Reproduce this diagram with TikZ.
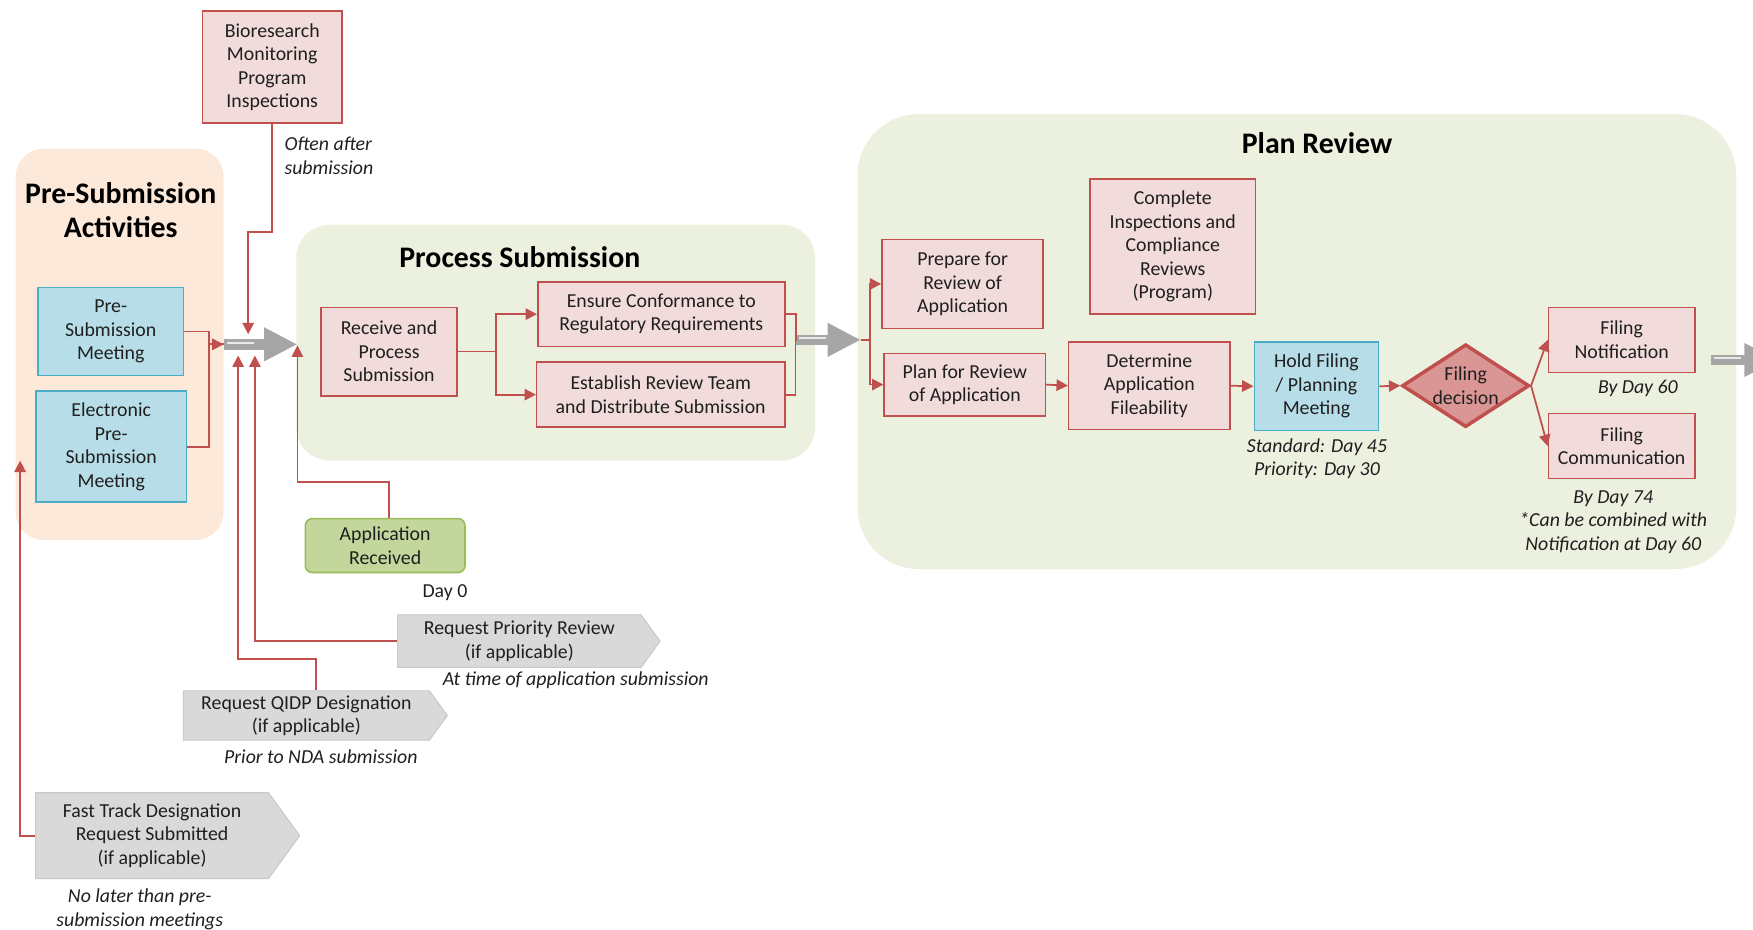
\documentclass[tikz,border=0pt]{standalone}
\usepackage{fontspec}
\setmainfont{Carlito}
\usetikzlibrary{arrows.meta, shapes.geometric, shapes.symbols}

\definecolor{rojo}{HTML}{C0504D}
\definecolor{rosa}{HTML}{F2DCDB}
\definecolor{azul}{HTML}{B7DEE8}
\definecolor{azulborde}{HTML}{4BACC6}
\definecolor{naranja}{HTML}{FDE9D9}
\definecolor{verde}{HTML}{EBF1DE}
\definecolor{verdecaja}{HTML}{C3D69B}
\definecolor{verdeborde}{HTML}{9BBB59}
\definecolor{gris}{HTML}{D9D9D9}
\definecolor{grisborde}{HTML}{C9C9C9}
\definecolor{grisflecha}{HTML}{A6A6A6}
\definecolor{rojodec}{HTML}{D99694}

\tikzset{
  texto/.style={font=\fontsize{11.3}{13.4}\selectfont, text=black!88, align=center},
  caja/.style={texto, draw=rojo, fill=rosa, line width=0.9pt, inner sep=1pt},
  cajaazul/.style={caja, draw=azulborde, fill=azul},
  senal/.style={texto, signal, signal to=east, signal pointer angle=108, draw=grisborde, fill=gris, line width=0.6pt, inner sep=1pt},
  nota/.style={texto, font=\fontsize{11.3}{13.4}\selectfont\itshape},
  titulo/.style={align=center, text=black, font=\fontsize{17}{19.7}\selectfont\bfseries},
  linea/.style={draw=rojo, line width=1pt},
  flecha/.style={linea, -{Triangle[length=6.5pt,width=6.5pt]}},
  gruesa/.style={draw=grisflecha, line width=6pt, -{Triangle[length=19pt,width=18pt]}},
  brillo/.style={draw=white!75!grisflecha, line width=1.2pt},
}

\begin{document}
\begin{tikzpicture}[x=0.0224cm, y=-0.0224cm]
  \clip (0,0) rectangle (1568,831);
  % marcos de fondo
  \fill[naranja, rounded corners=16pt] (14,133) rectangle (200,483);
  \fill[verde, rounded corners=19pt] (265,201) rectangle (729,412);
  \fill[verde, rounded corners=35pt] (767,102) rectangle (1553,509);
  \node[titulo] (tpre) at (108,188) {Pre-Submission\\Activities};
  \node[titulo] (tproc) at (465,230) {Process Submission};
  \node[titulo] (tplan) at (1178,128) {Plan Review};

  % flechas grises entre etapas
  \coordinate (g1i) at (200,308); \coordinate (g1f) at (266,308);
  \coordinate (g2i) at (712,304); \coordinate (g2f) at (770,304);
  \coordinate (g3i) at (1530,322); \coordinate (g3f) at (1590,322);
  \foreach \a/\b in {g1i/g1f, g2i/g2f, g3i/g3f}{
    \draw[gruesa] (\a) -- (\b);
    \draw[brillo] (\a) ++(3,-1.5) -- ++(24,0);
  }

  % antes de la solicitud
  \node[caja, minimum width=2.80cm, minimum height=2.24cm] (bio) at (243.5,60)
    {Bioresearch\\Monitoring\\Program\\Inspections};
  \node[nota, align=left, anchor=west] (nbio) at (249,139.5) {Often after\\submission};
  \node[cajaazul, minimum width=2.91cm, minimum height=1.77cm] (presub) at (99,296.5)
    {Pre-\\Submission\\Meeting};
  \node[cajaazul, minimum width=3.02cm, minimum height=2.22cm] (elec) at (99.5,399.5)
    {Electronic\\Pre-\\Submission\\Meeting};

  % entradas de abajo
  \node[texto, draw=verdeborde, fill=verdecaja, line width=0.9pt, rounded corners=4pt,
    minimum width=3.20cm, minimum height=1.08cm] (apprec) at (344.5,488) {Application\\Received};
  \node[texto] (day0) at (398,530) {Day 0};
  \node[senal, minimum width=5.26cm, minimum height=1.05cm] (prio) at (464.5,573.5)
    {Request Priority Review\\(if applicable)};
  \node[nota] (nprio) at (515,608) {At time of application submission};
  \node[senal, minimum width=5.29cm, minimum height=0.99cm] (qidp) at (274,640)
    {Request QIDP Designation\\(if applicable)};
  \node[nota] (nqidp) at (287,677) {Prior to NDA submission};
  \node[senal, minimum width=5.29cm, minimum height=1.72cm] (fast) at (136,747.5)
    {Fast Track Designation\\Request Submitted\\(if applicable)};
  \node[nota] (nfast) at (125,813.5) {No later than pre-\\submission meetings};

  % procesar la solicitud
  \node[caja, minimum width=2.73cm, minimum height=1.77cm] (receive) at (348,314.5)
    {Receive and\\Process\\Submission};
  \node[caja, minimum width=4.95cm, minimum height=1.30cm] (ensure) at (591.5,281)
    {Ensure Conformance to\\Regulatory Requirements};
  \node[caja, minimum width=4.97cm, minimum height=1.30cm] (establish) at (591,353)
    {Establish Review Team\\and Distribute Submission};

  % revisión del plan
  \node[caja, minimum width=3.23cm, minimum height=1.79cm] (prepare) at (861,254)
    {Prepare for\\Review of\\Application};
  \node[caja, minimum width=3.32cm, minimum height=2.71cm] (complete) at (1049,220.5)
    {Complete\\Inspections and\\Compliance\\Reviews\\(Program)};
  \node[caja, minimum width=3.23cm, minimum height=1.25cm] (planrev) at (863,344)
    {Plan for Review\\of Application};
  \node[caja, minimum width=3.23cm, minimum height=1.75cm] (determine) at (1028,345)
    {Determine\\Application\\Fileability};
  \node[cajaazul, minimum width=2.49cm, minimum height=1.77cm] (hold) at (1177.5,345.5)
    {Hold Filing\\/ Planning\\Meeting};
  \node[nota] (nhold) at (1178,410.5) {Standard: Day 45\\Priority: Day 30};
  \node[texto, diamond, aspect=1.54, draw=rojo, fill=rojodec, line width=2pt, inner sep=0pt,
    minimum width=2.55cm, minimum height=1.66cm] (dec) at (1311,345) {Filing\\decision};
  \node[caja, minimum width=2.93cm, minimum height=1.30cm] (notif) at (1450.5,304)
    {Filing\\Notification};
  \node[nota] (nnotif) at (1465,347) {By Day 60};
  \node[caja, minimum width=2.93cm, minimum height=1.30cm] (comm) at (1450.5,399)
    {Filing\\Communication};
  \node[nota] (ncomm) at (1443,467) {By Day 74\\*Can be combined with\\Notification at Day 60};

  % conectores
  \coordinate (bioin) at (222,299);
  \coordinate (appin) at (266,309);
  \coordinate (qidpin) at (213,318);
  \coordinate (prioin) at (228,318);
  \coordinate (fastin) at (18,412);
  \draw[flecha] (bio.south) -- ++(0,97) -| (bioin);
  \draw[flecha] (presub.east) -- ++(22,0) |- (g1i);
  \draw[linea] (elec.east) -- ++(19,0) |- (g1i);
  \draw[flecha] ([xshift=0.08cm]apprec.north) -- ++(0,-32) -| (appin);
  \draw[flecha] (prio.west) -| (prioin);
  \draw[flecha] ([xshift=0.2cm]qidp.north) -- ++(0,-28) -| (qidpin);
  \draw[flecha] (fast.west) -| (fastin);
  \draw[flecha] (receive.east) -- ++(34,0) |- (ensure.west);
  \draw[flecha] (receive.east) -- ++(34,0) |- (establish.west);
  \draw[linea] (ensure.east) -- ++(9,0) |- (g2i);
  \draw[linea] (establish.east) -- ++(9,0) |- (g2i);
  \draw[flecha] (g2f) -- ++(8,0) |- (prepare.west);
  \draw[flecha] (g2f) -- ++(8,0) |- (planrev.west);
  \draw[flecha] (planrev.east) -- (determine.west);
  \draw[flecha] (determine.east) -- (hold.west);
  \draw[flecha] (hold.east) -- (dec.west);
  \draw[flecha] (dec.east) -- (notif.west);
  \draw[flecha] (dec.east) -- (comm.west);
\end{tikzpicture}
\end{document}
